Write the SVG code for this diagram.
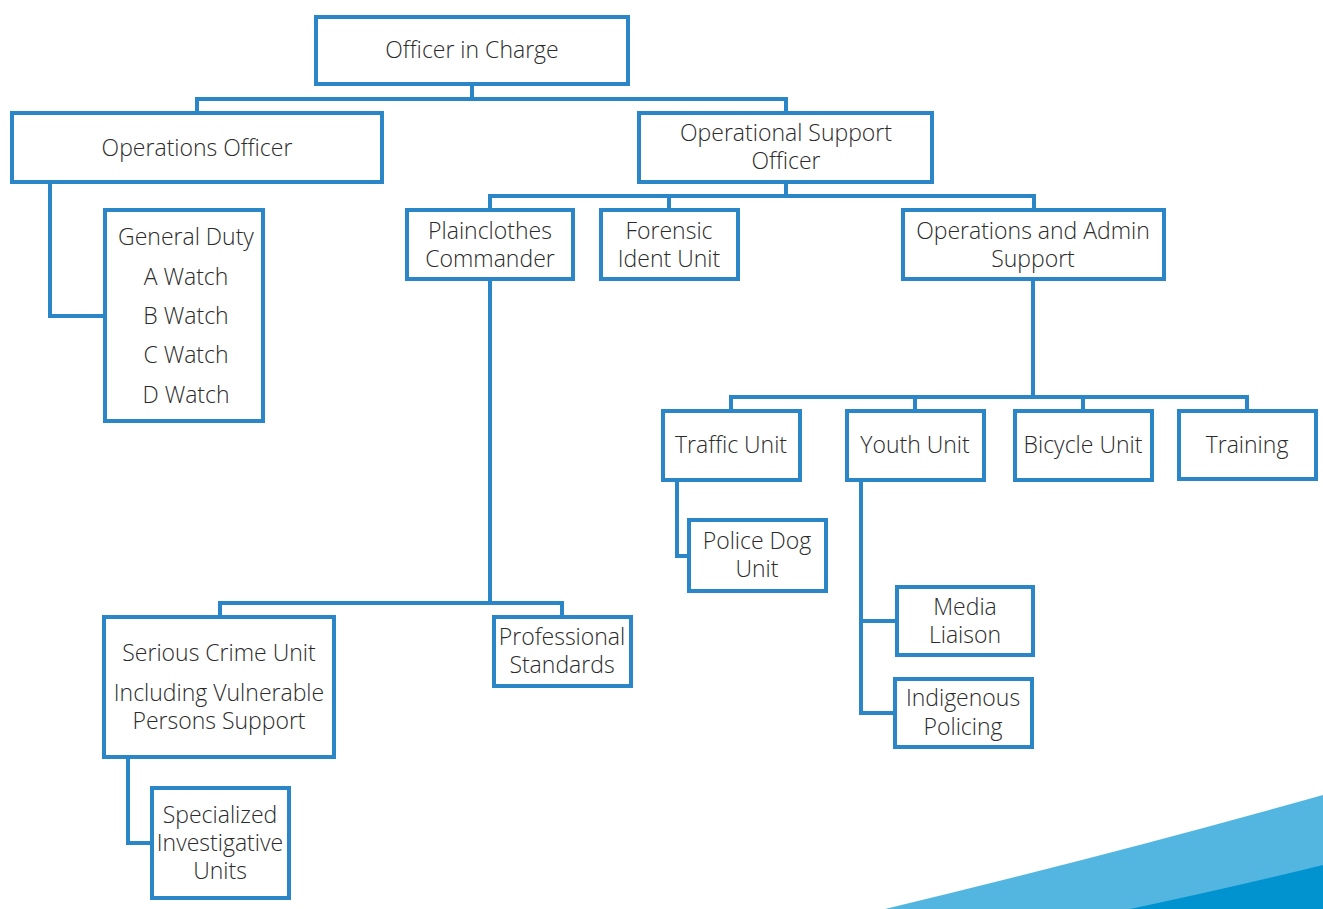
<svg xmlns="http://www.w3.org/2000/svg" width="1323" height="909" viewBox="0 0 1323 909">
<style>
.box{fill:#fff;stroke:#2b86c8;stroke-width:4}
.ln{fill:none;stroke:#2b86c8;stroke-width:4}
text{font-family:"Open Sans","Liberation Sans",sans-serif;font-weight:300;font-size:23px;fill:#2b2b2b;text-anchor:middle}
</style>
<rect width="1323" height="909" fill="#fff"/>
<g id="swoosh">
<path d="M885,909 Q1110,855 1323,795 L1323,909 Z" fill="#52b6e1"/>
<path d="M1130,909 Q1230,888 1323,865 L1323,909 Z" fill="#0093d0"/>
</g>
<g id="connectors">
<path class="ln" d="M472,84 V99 M197,113 V99 H786 V113"/>
<path class="ln" d="M50,182 V316 H105"/>
<path class="ln" d="M786,182 V196 M490,210 V196 H1034 V210 M669,196 V210"/>
<path class="ln" d="M490,279 V603 M220,617 V603 H562 V617"/>
<path class="ln" d="M128,757 V843 H152"/>
<path class="ln" d="M1033,279 V397 M731,411 V397 H1247 V411 M915,397 V411 M1083,397 V411"/>
<path class="ln" d="M677,480 V556 H689"/>
<path class="ln" d="M861,480 V713 H894 M861,621 H897"/>
</g>
<g id="officer-in-charge"><rect class="box" x="316" y="17" width="312" height="67"/><text x="472" y="58">Officer in Charge</text></g>
<g id="operations-officer"><rect class="box" x="12" y="113" width="370" height="69"/><text x="197" y="156">Operations Officer</text></g>
<g id="operational-support-officer"><rect class="box" x="639" y="113" width="293" height="69"/><text x="786" y="141">Operational Support</text><text x="786" y="169">Officer</text></g>
<g id="general-duty"><rect class="box" x="105" y="210" width="158" height="211"/><text x="186" y="245">General Duty</text><text x="186" y="285">A Watch</text><text x="186" y="324">B Watch</text><text x="186" y="363">C Watch</text><text x="186" y="403">D Watch</text></g>
<g id="plainclothes-commander"><rect class="box" x="407" y="210" width="166" height="69"/><text x="490" y="239">Plainclothes</text><text x="490" y="267">Commander</text></g>
<g id="forensic-ident-unit"><rect class="box" x="601" y="210" width="137" height="69"/><text x="669" y="239">Forensic</text><text x="669" y="267">Ident Unit</text></g>
<g id="operations-admin-support"><rect class="box" x="903" y="210" width="261" height="69"/><text x="1033" y="239">Operations and Admin</text><text x="1033" y="267">Support</text></g>
<g id="traffic-unit"><rect class="box" x="663" y="411" width="137" height="69"/><text x="731" y="453">Traffic Unit</text></g>
<g id="youth-unit"><rect class="box" x="847" y="411" width="137" height="69"/><text x="915" y="453">Youth Unit</text></g>
<g id="bicycle-unit"><rect class="box" x="1015" y="411" width="137" height="69"/><text x="1083" y="453">Bicycle Unit</text></g>
<g id="training"><rect class="box" x="1179" y="411" width="137" height="68"/><text x="1247" y="453">Training</text></g>
<g id="police-dog-unit"><rect class="box" x="689" y="520" width="137" height="71"/><text x="757" y="549">Police Dog</text><text x="757" y="577">Unit</text></g>
<g id="media-liaison"><rect class="box" x="897" y="587" width="136" height="68"/><text x="965" y="615">Media</text><text x="965" y="643">Liaison</text></g>
<g id="indigenous-policing"><rect class="box" x="895" y="679" width="137" height="68"/><text x="963" y="706">Indigenous</text><text x="963" y="735">Policing</text></g>
<g id="serious-crime-unit"><rect class="box" x="104" y="617" width="230" height="140"/><text x="219" y="661">Serious Crime Unit</text><text x="219" y="701">Including Vulnerable</text><text x="219" y="729">Persons Support</text></g>
<g id="professional-standards"><rect class="box" x="494" y="617" width="137" height="69"/><text x="562" y="645">Professional</text><text x="562" y="673">Standards</text></g>
<g id="specialized-investigative-units"><rect class="box" x="152" y="788" width="137" height="110"/><text x="220" y="823">Specialized</text><text x="220" y="851">Investigative</text><text x="220" y="879">Units</text></g>
</svg>
